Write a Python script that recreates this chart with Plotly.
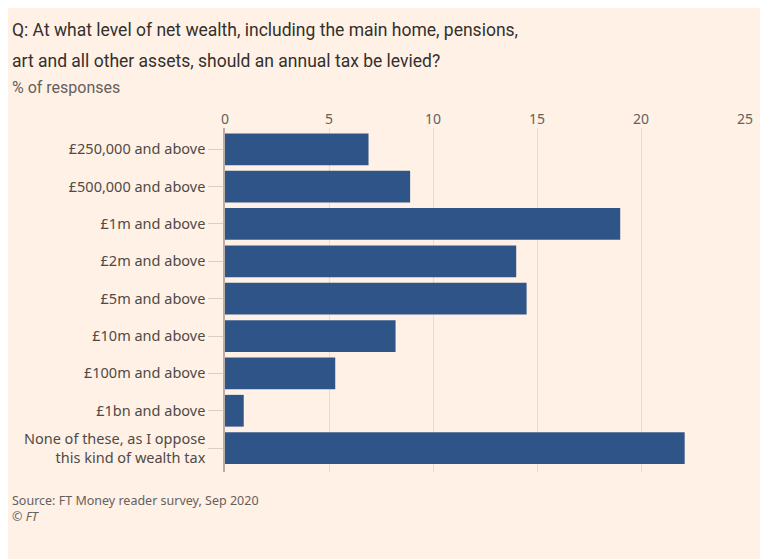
import plotly.graph_objects as go

categories = [
    "£250,000 and above",
    "£500,000 and above",
    "£1m and above",
    "£2m and above",
    "£5m and above",
    "£10m and above",
    "£100m and above",
    "£1bn and above",
    "None of these, as I oppose<br>this kind of wealth tax",
]
values = [6.9, 8.9, 19.0, 14.0, 14.5, 8.2, 5.3, 0.9, 22.1]
x_ticks = [0, 5, 10, 15, 20, 25]
title_lines = [
    "Q: At what level of net wealth, including the main home, pensions,",
    "art and all other assets, should an annual tax be levied?",
]

BG = "#FFF1E5"
BAR = "#2F5487"
FONT = "Noto Sans"
TFONT = "Roboto"

# page offset (browser body margin) compensation
OFF = 8
FW, FH = 768 - OFF, 559 - OFF
L, R, T, B = 225 - OFF, 23, 128 - OFF, FH - (472 - OFF)

fig = go.Figure(go.Bar(
    x=values, y=categories, orientation="h",
    marker=dict(color=BAR, line=dict(width=0)),
    width=0.85,
))

fig.update_layout(
    width=FW, height=FH,
    paper_bgcolor=BG, plot_bgcolor=BG,
    margin=dict(l=L, r=R, t=T, b=B),
    showlegend=False,
    font=dict(family=FONT, color="#66605C", size=13),
    xaxis=dict(
        side="top", range=[0, 25], tickvals=x_ticks,
        showgrid=True, gridcolor="#E9DDD2", gridwidth=1,
        zeroline=False, showline=False, ticks="",
        tickfont=dict(size=14, color="#66605C"),
        fixedrange=True,
    ),
    yaxis=dict(
        showline=True, linecolor="#B8B0A8", linewidth=1.5,
        ticks="outside", ticklen=15, tickcolor="#D8CFC7", tickwidth=1,
        tickfont=dict(size=14.5, color="#4F4A46"),
        showgrid=False,
        range=[8.64, -0.57],
    ),
)

PW = FW - L - R
PH = FH - T - B
def px(xr):
    return (xr - OFF - L) / PW
def py(yr):
    return (FH - B - (yr - OFF)) / PH

anns = []
for line, yc in zip(title_lines, [30, 61]):
    anns.append(dict(text=line, x=px(10), y=py(yc), xref="paper", yref="paper",
                     xanchor="left", yanchor="middle", showarrow=False,
                     font=dict(size=17.5, color="#33302E", family=TFONT)))
anns += [
    dict(text="% of responses", x=px(10), y=py(87), xref="paper", yref="paper",
         xanchor="left", yanchor="middle", showarrow=False,
         font=dict(size=16, color="#66605C", family=TFONT)),
    dict(text="Source: FT Money reader survey, Sep 2020<br><i>© FT</i>", x=px(10), y=py(490),
         xref="paper", yref="paper", xanchor="left", yanchor="top", showarrow=False, align="left",
         font=dict(size=12.5, color="#66605C", family=FONT)),
]
fig.layout.annotations = anns

fig.write_html("out.html")
